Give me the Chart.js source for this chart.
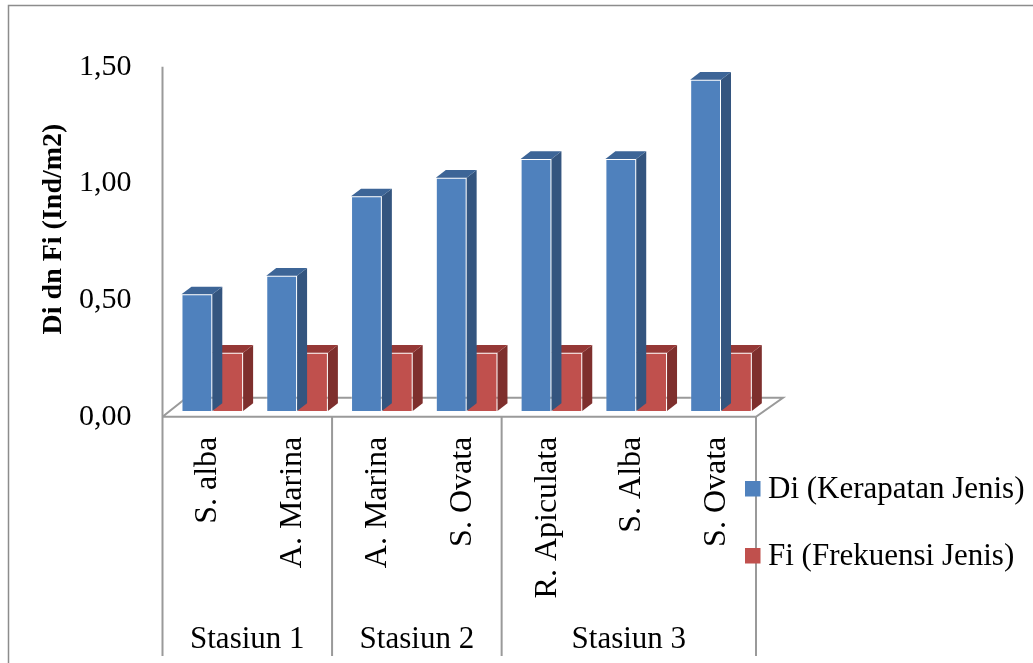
<!DOCTYPE html>
<html>
<head>
<meta charset="utf-8">
<script src="https://cdn.jsdelivr.net/npm/chart.js@4.4.1/dist/chart.umd.min.js"></script>
<style>
  html, body { margin: 0; padding: 0; background: #ffffff; overflow: hidden; }
  canvas { display: block; }
</style>
</head>
<body>
<canvas id="chart" width="1033" height="663"></canvas>
<script>
// Species observed per station (bottom axis, first level)
const categories = ['S. alba', 'A. Marina', 'A. Marina', 'S. Ovata', 'R. Apiculata', 'S. Alba', 'S. Ovata'];
// Station groups (bottom axis, second level) and how many species each covers
const stations = ['Stasiun 1', 'Stasiun 2', 'Stasiun 3'];
const stationSpans = [2, 2, 3];

// Series values
const diValues = [0.50, 0.58, 0.92, 1.00, 1.08, 1.08, 1.42]; // Di (Kerapatan Jenis)
const fiValues = [0.25, 0.25, 0.25, 0.25, 0.25, 0.25, 0.25]; // Fi (Frekuensi Jenis)
const seriesNames = ['Di (Kerapatan Jenis)', 'Fi (Frekuensi Jenis)'];

// Value axis
const yMin = 0;
const yMax = 1.5;
const yStep = 0.5;
const yTitle = 'Di dn Fi (Ind/m2)';

const SERIF = '"Liberation Serif", "Times New Roman", serif';
const LINE_GRAY = '#9a9a9a';
const FRONT = ['#4F81BD', '#C0504D'];
const FACES = [
  { side: '#34557F', top: '#3D6597' },
  { side: '#7E2F2D', top: '#953836' }
];

// Pseudo-3D geometry: bars stand a little behind the front edge of the floor
const barShift = { x: 7.4, y: 5.7 };
const barDepth = { x: 10, y: 7.7 };
const floorLeft = { x: 24, y: 19 };
const floorRight = { x: 27, y: 19 };

const bars3d = {
  id: 'bars3d',
  beforeDatasetsDraw(chart) {
    const ctx = chart.ctx;
    const a = chart.chartArea;
    // floor outline
    ctx.save();
    ctx.strokeStyle = LINE_GRAY;
    ctx.lineWidth = 2;
    ctx.beginPath();
    ctx.moveTo(a.left, a.bottom);
    ctx.lineTo(a.left + floorLeft.x, a.bottom - floorLeft.y);
    ctx.lineTo(a.right + floorRight.x, a.bottom - floorRight.y);
    ctx.lineTo(a.right, a.bottom);
    ctx.lineTo(a.left, a.bottom);
    ctx.stroke();
    ctx.restore();
    // shift the bars back onto the floor
    ctx.save();
    ctx.translate(barShift.x, -barShift.y);
  },
  beforeDatasetDraw(chart, args) {
    const ctx = chart.ctx;
    const meta = chart.getDatasetMeta(args.index);
    const col = FACES[args.index];
    const dx = barDepth.x, dy = barDepth.y;
    meta.data.forEach(bar => {
      const p = bar.getProps(['x', 'y', 'base', 'width'], true);
      const x0 = p.x - p.width / 2;
      const x1 = p.x + p.width / 2;
      const top = Math.min(p.y, p.base);
      const bottom = Math.max(p.y, p.base);
      ctx.fillStyle = col.side;
      ctx.beginPath();
      ctx.moveTo(x1, bottom);
      ctx.lineTo(x1 + dx, bottom - dy);
      ctx.lineTo(x1 + dx, top - dy);
      ctx.lineTo(x1, top);
      ctx.closePath();
      ctx.fill();
      ctx.fillStyle = col.top;
      ctx.beginPath();
      ctx.moveTo(x0, top);
      ctx.lineTo(x1, top);
      ctx.lineTo(x1 + dx, top - dy);
      ctx.lineTo(x0 + dx, top - dy);
      ctx.closePath();
      ctx.fill();
    });
  },
  afterDatasetsDraw(chart) {
    chart.ctx.restore();
  }
};

const decorations = {
  id: 'decorations',
  afterDraw(chart) {
    const ctx = chart.ctx;
    const a = chart.chartArea;
    const xs = chart.scales.x;
    const catW = (a.right - a.left) / categories.length;
    const boxBottom = 656;

    ctx.save();
    // outer frame
    ctx.strokeStyle = '#8c8c8c';
    ctx.lineWidth = 1.5;
    ctx.beginPath();
    ctx.moveTo(8.5, 663);
    ctx.lineTo(8.5, 5.5);
    ctx.lineTo(1033, 5.5);
    ctx.stroke();

    // value axis line and category box dividers
    ctx.strokeStyle = LINE_GRAY;
    ctx.lineWidth = 2;
    ctx.beginPath();
    ctx.moveTo(a.left, a.top);
    ctx.lineTo(a.left, boxBottom);
    let idx = 0;
    stationSpans.forEach(span => {
      idx += span;
      const xb = a.left + idx * catW;
      ctx.moveTo(xb, a.bottom);
      ctx.lineTo(xb, boxBottom);
    });
    ctx.stroke();

    // species labels, rotated
    ctx.fillStyle = '#000000';
    ctx.font = '32px ' + SERIF;
    ctx.textAlign = 'right';
    ctx.textBaseline = 'alphabetic';
    categories.forEach((c, i) => {
      const cx = xs.getPixelForValue(i);
      ctx.save();
      ctx.translate(cx + 11.5, a.bottom + 20);
      ctx.rotate(-Math.PI / 2);
      ctx.fillText(c, 0, 0);
      ctx.restore();
    });

    // station labels
    ctx.font = '31px ' + SERIF;
    ctx.textAlign = 'center';
    idx = 0;
    stations.forEach((s, k) => {
      const start = a.left + idx * catW;
      idx += stationSpans[k];
      const end = a.left + idx * catW;
      ctx.fillText(s, (start + end) / 2, 648);
    });

    // value axis title
    ctx.save();
    ctx.font = 'bold 28px ' + SERIF;
    ctx.translate(61, 229);
    ctx.rotate(-Math.PI / 2);
    ctx.textAlign = 'center';
    ctx.fillText(yTitle, 0, 0);
    ctx.restore();

    // legend
    ctx.font = '31px ' + SERIF;
    ctx.textAlign = 'left';
    ctx.textBaseline = 'middle';
    seriesNames.forEach((name, i) => {
      const yc = 488.5 + i * 67;
      ctx.fillStyle = FRONT[i];
      ctx.fillRect(745, yc - 7.5, 15.5, 15.5);
      ctx.fillStyle = '#000000';
      ctx.fillText(name, 768, yc + 1);
    });
    ctx.restore();
  }
};

new Chart(document.getElementById('chart'), {
  type: 'bar',
  data: {
    labels: categories,
    datasets: [
      {
        label: seriesNames[0],
        data: diValues,
        backgroundColor: FRONT[0],
        borderColor: 'rgba(255,255,255,0.25)',
        borderWidth: 1,
        clip: false
      },
      {
        label: seriesNames[1],
        data: fiValues,
        backgroundColor: FRONT[1],
        borderColor: 'rgba(255,255,255,0.25)',
        borderWidth: 1,
        clip: false
      }
    ]
  },
  options: {
    responsive: false,
    animation: false,
    devicePixelRatio: 1,
    layout: { padding: { left: 0, top: 66.7, right: 277, bottom: 246.3 } },
    datasets: { bar: { categoryPercentage: 0.727, barPercentage: 1.0 } },
    plugins: {
      legend: { display: false },
      tooltip: { enabled: false },
      title: { display: false }
    },
    scales: {
      x: { display: false, offset: true },
      y: {
        min: yMin,
        max: yMax,
        grid: { display: false, drawTicks: false },
        border: { display: false },
        ticks: {
          stepSize: yStep,
          padding: 31,
          color: '#000000',
          font: { family: SERIF, size: 30 },
          callback: v => v.toFixed(2).replace('.', ',')
        },
        afterFit(scale) { scale.width = 162.5; }
      }
    }
  },
  plugins: [bars3d, decorations]
});
</script>
</body>
</html>
